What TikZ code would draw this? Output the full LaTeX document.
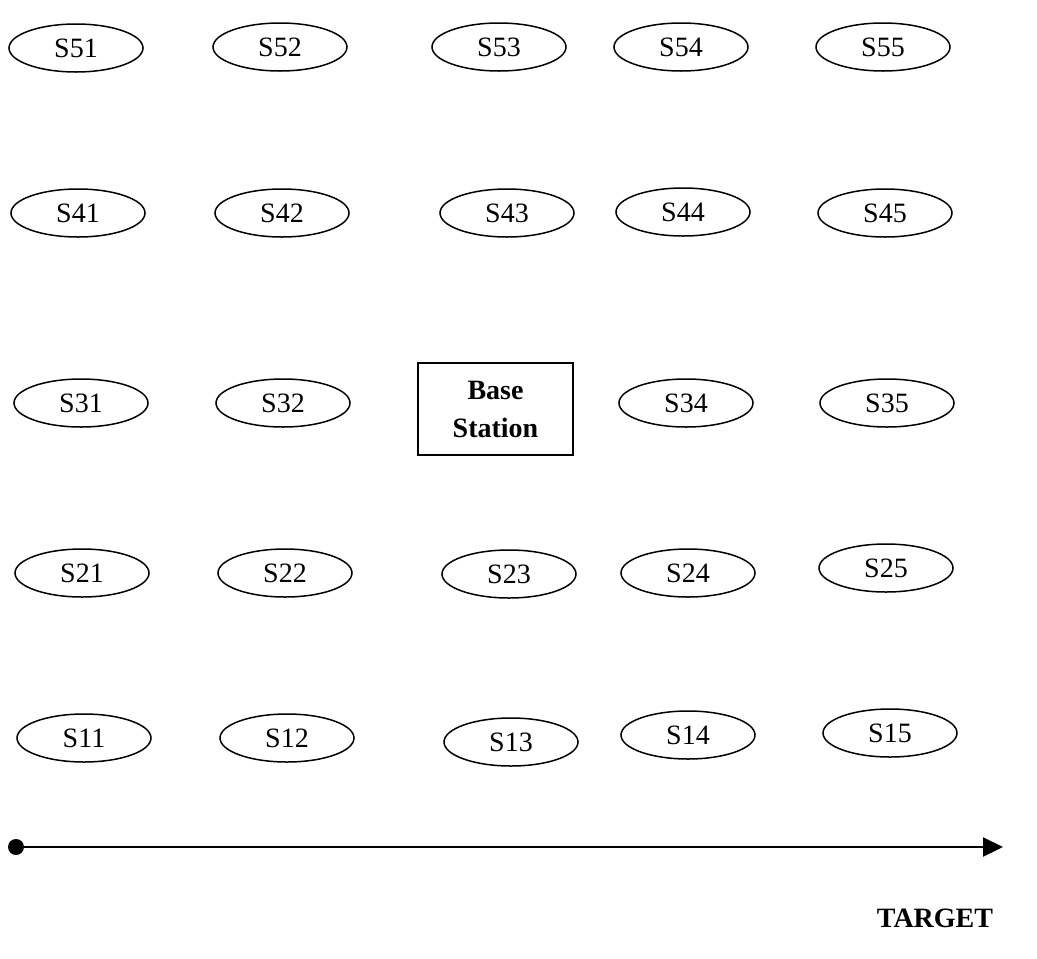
\documentclass[tikz,border=0pt]{standalone}
\usepackage{fontspec}
\setmainfont{Liberation Serif}
\usepackage{tikz}
\usetikzlibrary{arrows.meta, shapes.geometric}

\tikzset{
  sensor/.style={draw, line width=1.5pt, ellipse, minimum width=134pt, minimum height=48pt, inner sep=0pt, font=\fontsize{28}{30}\selectfont},
  basebox/.style={draw, line width=1.3pt, minimum width=155pt, minimum height=92pt, align=center, font=\fontsize{28}{38}\selectfont\bfseries}
}

\begin{document}
\begin{tikzpicture}[x=1pt, y=-1pt, >=Triangle]
  \useasboundingbox (0,0) rectangle (1037,959);

  % Row 5
  \node[sensor] (s51) at (76,48) {S51};
  \node[sensor] (s52) at (280,47) {S52};
  \node[sensor] (s53) at (499,47) {S53};
  \node[sensor] (s54) at (681,47) {S54};
  \node[sensor] (s55) at (883,47) {S55};

  % Row 4
  \node[sensor] (s41) at (78,213) {S41};
  \node[sensor] (s42) at (282,213) {S42};
  \node[sensor] (s43) at (507,213) {S43};
  \node[sensor] (s44) at (683,212) {S44};
  \node[sensor] (s45) at (885,213) {S45};

  % Row 3 with the base station
  \node[sensor] (s31) at (81,403) {S31};
  \node[sensor] (s32) at (283,403) {S32};
  \node[basebox] (bs) at (495.5,409) {Base\\Station};
  \node[sensor] (s34) at (686,403) {S34};
  \node[sensor] (s35) at (887,403) {S35};

  % Row 2
  \node[sensor] (s21) at (82,573) {S21};
  \node[sensor] (s22) at (285,573) {S22};
  \node[sensor] (s23) at (509,574) {S23};
  \node[sensor] (s24) at (688,573) {S24};
  \node[sensor] (s25) at (886,568) {S25};

  % Row 1
  \node[sensor] (s11) at (84,738) {S11};
  \node[sensor] (s12) at (287,738) {S12};
  \node[sensor] (s13) at (511,742) {S13};
  \node[sensor] (s14) at (688,735) {S14};
  \node[sensor] (s15) at (890,733) {S15};

  % Direction to the target
  \node[circle, fill, inner sep=0pt, minimum size=16pt] (src) at (16,847) {};
  \coordinate (tip) at (1003,847);
  \draw[line width=2.2pt, -{Triangle[length=20pt, width=19pt]}] (src.center) -- (tip);

  \node[font=\fontsize{28}{30}\selectfont\bfseries] (target) at (935,918) {TARGET};
\end{tikzpicture}
\end{document}
